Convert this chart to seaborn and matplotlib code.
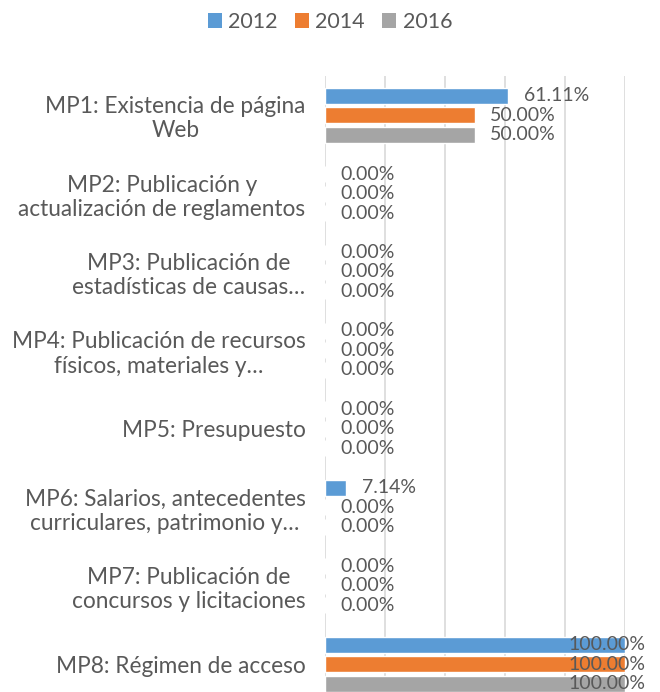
import matplotlib
matplotlib.use("Agg")
import matplotlib.pyplot as plt
import seaborn as sns
import pandas as pd
from matplotlib.patches import Patch

categories = [
    "MP1: Existencia de página\nWeb",
    "MP2: Publicación y\nactualización de reglamentos",
    "MP3: Publicación de\nestadísticas de causas…",
    "MP4: Publicación de recursos\nfísicos, materiales y…",
    "MP5: Presupuesto",
    "MP6: Salarios, antecedentes\ncurriculares, patrimonio y…",
    "MP7: Publicación de\nconcursos y licitaciones",
    "MP8: Régimen de acceso",
]
years = ["2012", "2014", "2016"]
values_2012 = [61.11, 0.00, 0.00, 0.00, 0.00, 7.14, 0.00, 100.00]
values_2014 = [50.00, 0.00, 0.00, 0.00, 0.00, 0.00, 0.00, 100.00]
values_2016 = [50.00, 0.00, 0.00, 0.00, 0.00, 0.00, 0.00, 100.00]
colors = ["#5B9BD5", "#ED7D31", "#A5A5A5"]

series = {"2012": values_2012, "2014": values_2014, "2016": values_2016}
rows = []
for yr in years:
    for cat, v in zip(categories, series[yr]):
        rows.append({"categoria": cat, "año": yr, "valor": v})
df = pd.DataFrame(rows)

sns.set_theme(style="white")
plt.rcParams["font.family"] = ["Lato", "DejaVu Sans"]
text_color = "#595959"

fig = plt.figure(figsize=(6.6, 6.92), dpi=100)
ax = fig.add_axes([325 / 660, -0.0166, 300 / 660, 0.907])

sns.barplot(data=df, y="categoria", x="valor", hue="año", order=categories,
            hue_order=years, palette=colors, orient="h", width=0.745, gap=0.18,
            ax=ax, legend=False, saturation=1)

ax.set_xlim(0, 100)
ax.set_xticks([0, 20, 40, 60, 80, 100])
ax.set_xticklabels([])
ax.tick_params(axis="x", length=0)
ax.grid(axis="x", color="#D9D9D9", linewidth=1.2)
ax.set_axisbelow(True)
for s in ax.spines.values():
    s.set_visible(False)
ax.set_xlabel("")
ax.set_ylabel("")
ax.tick_params(axis="y", length=0, pad=14)
ax.set_yticks(range(len(categories)))
ax.set_yticklabels(categories, multialignment="center", fontsize=16.3,
                   color=text_color, linespacing=1.2)

# value labels next to every bar
for container, yr in zip(ax.containers, years):
    for bar, v in zip(container, series[yr]):
        yc = bar.get_y() + bar.get_height() / 2
        if v >= 100:
            ax.annotate(f"{v:.2f}%", (v, yc), xytext=(14.5, 0),
                        textcoords="offset points", ha="right", va="center",
                        fontsize=14, color=text_color, annotation_clip=False)
        else:
            ax.annotate(f"{v:.2f}%", (v, yc), xytext=(11, 0),
                        textcoords="offset points", ha="left", va="center",
                        fontsize=14, color=text_color, annotation_clip=False)

handles = [Patch(facecolor=c, edgecolor="none", label=y) for c, y in zip(colors, years)]
fig.legend(handles=handles, loc="center", bbox_to_anchor=(0.5, 0.968), ncol=3,
           frameon=False, fontsize=15.5, labelcolor=text_color,
           handlelength=0.65, handleheight=0.65, handletextpad=0.3,
           columnspacing=0.8)

fig.savefig("out.png", dpi=100)
